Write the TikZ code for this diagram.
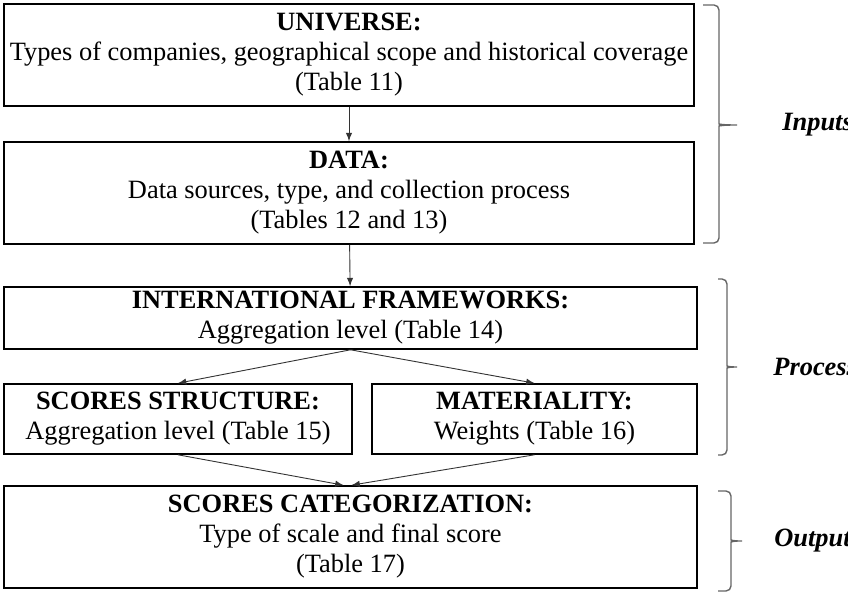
\documentclass[tikz,border=0pt]{standalone}
\usepackage{fontspec}
\setmainfont{Liberation Serif}

\begin{document}
\begin{tikzpicture}[x=0.5pt,y=-0.5pt,>=latex,
    box/.style={draw=black, line width=0.8pt, align=center, inner sep=2pt,
      font=\fontsize{13.2}{15}\selectfont},
    flow/.style={->, draw=black!80, line width=0.45pt},
    bracket/.style={draw=black!60, line width=0.7pt, rounded corners=2.5pt},
    phase/.style={anchor=west, inner sep=0pt, font=\fontsize{13.2}{15}\selectfont\bfseries\itshape}]
  \useasboundingbox (0,0) rectangle (848,592);

  \node[box, minimum width=345pt, minimum height=51pt] (universe) at (349,55)
    {\textbf{UNIVERSE:}\\ Types of companies, geographical scope and historical coverage\\ (Table 11)};
  \node[box, minimum width=345pt, minimum height=51pt] (data) at (349,193)
    {\textbf{DATA:}\\ Data sources, type, and collection process\\ (Tables 12 and 13)};
  \node[box, minimum width=346.5pt, minimum height=31pt] (frameworks) at (350.5,318)
    {\textbf{INTERNATIONAL FRAMEWORKS:}\\ Aggregation level (Table 14)};
  \node[box, minimum width=174pt, minimum height=35pt] (structure) at (178,419)
    {\textbf{SCORES STRUCTURE:}\\ Aggregation level (Table 15)};
  \node[box, minimum width=162.5pt, minimum height=35pt] (materiality) at (534.5,419)
    {\textbf{MATERIALITY:}\\ Weights (Table 16)};
  \node[box, minimum width=346.5pt, minimum height=51pt] (categorization) at (350.5,537)
    {\textbf{SCORES CATEGORIZATION:}\\ Type of scale and final score\\ (Table 17)};

  \draw[flow] (universe) -- (data);
  \draw[flow] (data) -- (frameworks);
  \draw[flow] (frameworks.south) -- (structure.north);
  \draw[flow] (frameworks.south) -- (materiality.north);
  \draw[flow] (structure.south) -- ([xshift=-3.5pt]categorization.north);
  \draw[flow] (materiality.south) -- ([xshift=0.5pt]categorization.north);

  % brackets on the right
  \draw[bracket] (703,5) -- (719,5) -- (719,119)
    .. controls (719,124) and (722,125) .. (740,125)
    .. controls (722,125) and (719,126) .. (719,131) -- (719,243) -- (703,243);
  \draw[bracket] (718,279) -- (727,279) -- (727,361)
    .. controls (727,366) and (729,367) .. (740,367)
    .. controls (729,367) and (727,368) .. (727,373) -- (727,455) -- (718,455);
  \draw[bracket] (718,491) -- (731,491) -- (731,535)
    .. controls (731,540) and (733,541) .. (745,541)
    .. controls (733,541) and (731,542) .. (731,547) -- (731,591) -- (718,591);

  \node[phase] (inputs) at (782,125) {Inputs};
  \node[phase] (process) at (773,367) {Process};
  \node[phase] (output) at (774,541) {Output};
\end{tikzpicture}
\end{document}
